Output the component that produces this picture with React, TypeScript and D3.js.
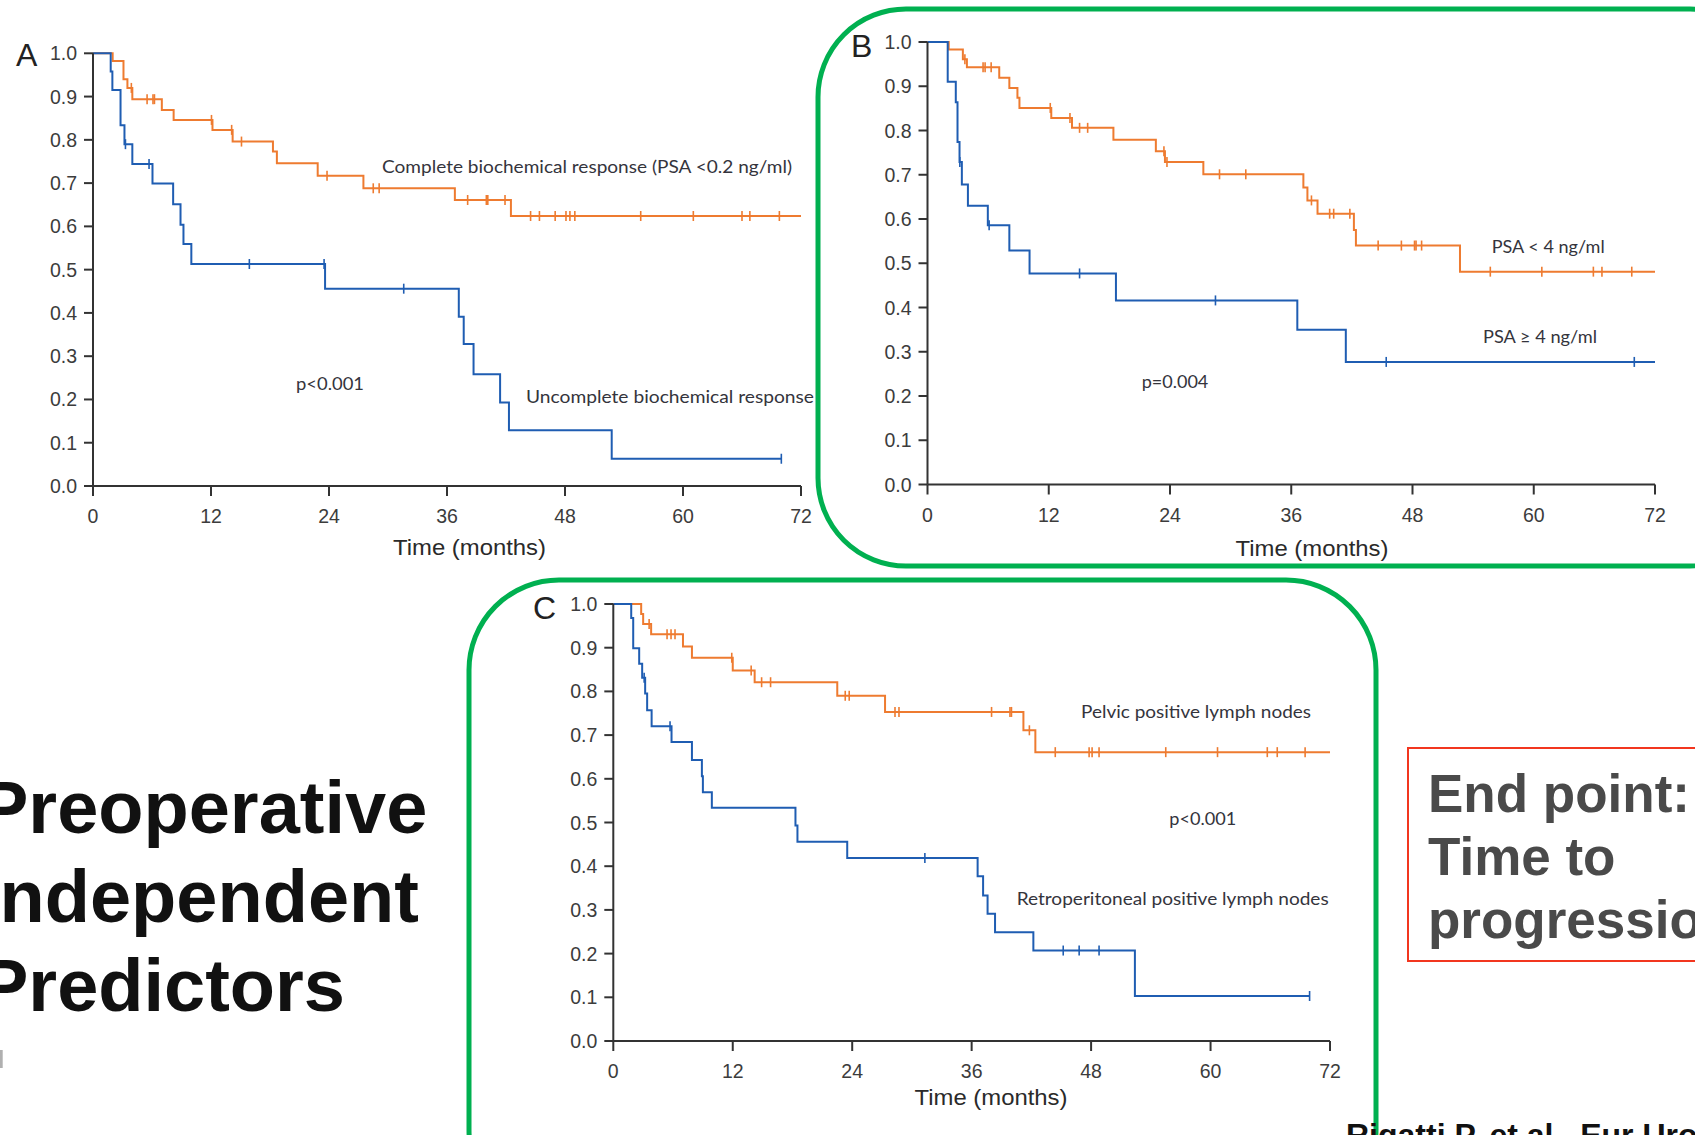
import React, { useEffect } from 'react';
import * as d3 from 'd3';

type Pt = [number, number];

// ---------- Panel A : biochemical response ----------
const aCompleteSteps: Pt[] = [
  [0, 1], [2.0, 0.982], [3.1, 0.94], [3.5, 0.92], [4.0, 0.894], [7.0, 0.869], [8.2, 0.846],
  [12.15, 0.823], [14.2, 0.796], [18.3, 0.773], [18.7, 0.746], [22.85, 0.717], [27.5, 0.688],
  [36.8, 0.661], [42.5, 0.624],
];
const aCompleteEnd = 72;
const aCompleteCensor = [3.9, 5.5, 6.1, 6.25, 12.05, 14.1, 15.1, 23.8, 28.5, 29.1, 38.1, 40.0, 40.15, 41.9,
  44.5, 45.4, 47.0, 48.1, 48.5, 49.0, 55.7, 61.05, 66.0, 66.8, 69.8];

const aUncompleteSteps: Pt[] = [
  [0, 1], [1.8, 0.958], [1.97, 0.915], [2.8, 0.834], [3.2, 0.79], [4.0, 0.744], [6.05, 0.699],
  [8.15, 0.651], [8.9, 0.604], [9.2, 0.559], [10.0, 0.513], [23.6, 0.456], [37.2, 0.391],
  [37.7, 0.328], [38.7, 0.258], [41.4, 0.193], [42.3, 0.129], [52.75, 0.063],
];
const aUncompleteEnd = 70.0;
const aUncompleteCensor = [3.3, 5.7, 15.9, 23.5, 31.6, 70.0];

// ---------- Panel B : PSA ----------
const bLowSteps: Pt[] = [
  [0, 1], [2.1, 0.983], [3.5, 0.961], [3.9, 0.943], [7.1, 0.919], [8.1, 0.896], [8.9, 0.874],
  [9.1, 0.851], [12.25, 0.828], [14.3, 0.806], [18.4, 0.779], [22.6, 0.753], [23.5, 0.729],
  [27.3, 0.701], [37.2, 0.671], [37.6, 0.642], [38.6, 0.612], [42.2, 0.575], [42.4, 0.54],
  [52.7, 0.481],
];
const bLowEnd = 72;
const bLowCensor = [3.7, 5.5, 5.7, 6.3, 12.15, 14.1, 15.05, 15.85, 23.4, 23.7, 28.9, 31.5, 38.0, 39.8,
  40.2, 41.8, 44.6, 46.9, 48.2, 48.35, 48.9, 55.7, 60.8, 65.9, 66.75, 69.7];

const bHighSteps: Pt[] = [
  [0, 1], [2.0, 0.91], [2.8, 0.864], [2.97, 0.774], [3.17, 0.729], [3.4, 0.678], [4.0, 0.63],
  [5.97, 0.586], [8.1, 0.529], [10.1, 0.477], [18.65, 0.416], [36.6, 0.35], [41.4, 0.277],
];
const bHighEnd = 72;
const bHighCensor = [3.2, 6.1, 15.05, 28.5, 45.4, 69.95];

// ---------- Panel C : lymph nodes ----------
const cPelvicSteps: Pt[] = [
  [0, 1], [2.8, 0.977], [3.0, 0.954], [3.8, 0.931], [7.0, 0.903], [7.9, 0.877], [12.0, 0.848],
  [14.2, 0.821], [22.5, 0.79], [27.3, 0.753], [41.2, 0.711], [42.4, 0.661],
];
const cPelvicEnd = 72;
const cPelvicCensor = [3.6, 5.4, 5.8, 6.2, 11.9, 13.85, 14.9, 15.8, 23.3, 23.7, 28.3, 28.7, 38.0, 39.85,
  40.0, 41.8, 44.4, 47.8, 48.1, 48.8, 55.5, 60.7, 65.7, 66.7, 69.5];

const cRetroSteps: Pt[] = [
  [0, 1], [1.8, 0.968], [2.0, 0.899], [2.6, 0.863], [2.9, 0.831], [3.2, 0.795], [3.4, 0.757],
  [3.85, 0.72], [5.85, 0.684], [7.9, 0.643], [8.9, 0.606], [9.0, 0.569], [9.9, 0.534],
  [18.3, 0.493], [18.5, 0.456], [23.5, 0.419], [36.6, 0.377], [37.15, 0.333], [37.6, 0.291],
  [38.35, 0.249], [42.2, 0.207], [52.4, 0.103],
];
const cRetroEnd = 69.95;
const cRetroCensor = [3.1, 5.7, 31.3, 45.2, 46.8, 48.8, 69.95];

// ---------- axes ----------
const xTicks = [0, 12, 24, 36, 48, 60, 72];
const yTicks = [0, 0.1, 0.2, 0.3, 0.4, 0.5, 0.6, 0.7, 0.8, 0.9, 1.0];
const xAxisTitle = 'Time (months)';

const ORANGE = '#ee7b30';
const BLUE = '#1f5db2';
const AXIS = '#333333';
const TICKTXT = '#3c3c3c';
const LABELTXT = '#34343c';
const GREEN = '#00b050';

function survAt(steps: Pt[], t: number): number {
  let s = steps[0][1];
  for (const [tt, v] of steps) {
    if (tt <= t + 1e-9) s = v;
    else break;
  }
  return s;
}

type Series = { steps: Pt[]; end: number; censor: number[]; color: string };
type Label = { text: string; x: number; y: number; w: number; size: number };

function KMPanel(props: {
  x0: number; x1: number; yTop: number; yBot: number;
  series: Series[]; letter: string; letterX: number; letterY: number;
  labels: Label[]; titleX: number; titleY: number;
}) {
  const { x0, x1, yTop, yBot, series, letter, letterX, letterY, labels, titleX, titleY } = props;
  const x = d3.scaleLinear().domain([0, 72]).range([x0, x1]);
  const y = d3.scaleLinear().domain([0, 1]).range([yBot, yTop]);
  const line = d3.line<Pt>().x((d) => x(d[0])).y((d) => y(d[1])).curve(d3.curveStepAfter);
  const fmt = d3.format('.1f');
  return (
    <g>
      {series.map((s, i) => {
        const pts: Pt[] = [...s.steps, [s.end, s.steps[s.steps.length - 1][1]]];
        return (
          <g key={i}>
            <path d={line(pts) || ''} fill="none" stroke={s.color} strokeWidth={2} />
            {s.censor.map((t, j) => {
              const sv = survAt(s.steps, t);
              return (
                <line key={j} x1={x(t)} x2={x(t)} y1={y(sv) - 5} y2={y(sv) + 5}
                  stroke={s.color} strokeWidth={1.6} />
              );
            })}
          </g>
        );
      })}
      {/* axes */}
      <line x1={x0} x2={x1} y1={yBot} y2={yBot} stroke={AXIS} strokeWidth={2} />
      <line x1={x0} x2={x0} y1={yTop} y2={yBot} stroke={AXIS} strokeWidth={2} />
      {yTicks.map((v) => (
        <g key={'y' + v}>
          <line x1={x0 - 9} x2={x0} y1={y(v)} y2={y(v)} stroke={AXIS} strokeWidth={2} />
          <text x={x0 - 16} y={y(v)} dy="0.36em" textAnchor="end" fontSize={19.5}
            fontFamily="'Liberation Sans', Arial, sans-serif" fill={TICKTXT}>{fmt(v)}</text>
        </g>
      ))}
      {xTicks.map((v) => (
        <g key={'x' + v}>
          <line x1={x(v)} x2={x(v)} y1={yBot} y2={yBot + 10} stroke={AXIS} strokeWidth={2} />
          <text x={x(v)} y={yBot + 37} textAnchor="middle" fontSize={19.5}
            fontFamily="'Liberation Sans', Arial, sans-serif" fill={TICKTXT}>{v}</text>
        </g>
      ))}
      <text x={titleX} y={titleY} textAnchor="middle" fontSize={22} textLength={153}
        lengthAdjust="spacingAndGlyphs"
        fontFamily="'Liberation Sans', Arial, sans-serif" fill="#2a2a2a">{xAxisTitle}</text>
      <text x={letterX} y={letterY} fontSize={32}
        fontFamily="'Liberation Sans', Arial, sans-serif" fill="#222">{letter}</text>
      {labels.map((l, i) => (
        <text key={i} x={l.x} y={l.y} fontSize={l.size} textLength={l.w} lengthAdjust="spacingAndGlyphs"
          fontFamily="Lato, 'Open Sans', sans-serif" fill={LABELTXT}>{l.text}</text>
      ))}
    </g>
  );
}

export default function App() {
  useEffect(() => {
    document.body.style.margin = '0';
  }, []);
  const W = 1695;
  const H = 1135;
  return (
    <svg width={W} height={H} viewBox={`0 0 ${W} ${H}`}
      style={{ position: 'absolute', left: 0, top: 0, background: '#fff', display: 'block' }}>
      <rect x={0} y={0} width={W} height={H} fill="#fff" />

      {/* green frames */}
      <rect x={818} y={9} width={960} height={557} rx={88} ry={88} fill="none" stroke={GREEN} strokeWidth={5} />
      <rect x={469} y={580} width={907} height={640} rx={90} ry={90} fill="none" stroke={GREEN} strokeWidth={5} />

      <KMPanel x0={93} x1={801} yTop={53.3} yBot={486}
        series={[
          { steps: aCompleteSteps, end: aCompleteEnd, censor: aCompleteCensor, color: ORANGE },
          { steps: aUncompleteSteps, end: aUncompleteEnd, censor: aUncompleteCensor, color: BLUE },
        ]}
        letter="A" letterX={16} letterY={66}
        titleX={469.5} titleY={555}
        labels={[
          { text: 'Complete biochemical response (PSA <0.2 ng/ml)', x: 382, y: 173, w: 410, size: 18 },
          { text: 'Uncomplete biochemical response', x: 526, y: 403, w: 288, size: 17.5 },
          { text: 'p<0.001', x: 296, y: 390, w: 68, size: 17.5 },
        ]}
      />

      <KMPanel x0={927.5} x1={1655} yTop={42} yBot={484.5}
        series={[
          { steps: bLowSteps, end: bLowEnd, censor: bLowCensor, color: ORANGE },
          { steps: bHighSteps, end: bHighEnd, censor: bHighCensor, color: BLUE },
        ]}
        letter="B" letterX={851} letterY={56.5}
        titleX={1312} titleY={556}
        labels={[
          { text: 'PSA < 4 ng/ml', x: 1491.7, y: 252.7, w: 113, size: 17.5 },
          { text: 'PSA \u2265 4 ng/ml', x: 1483, y: 343, w: 114, size: 17.5 },
          { text: 'p=0.004', x: 1141.7, y: 388, w: 66.6, size: 17.5 },
        ]}
      />

      <KMPanel x0={613.3} x1={1330} yTop={604} yBot={1041}
        series={[
          { steps: cPelvicSteps, end: cPelvicEnd, censor: cPelvicCensor, color: ORANGE },
          { steps: cRetroSteps, end: cRetroEnd, censor: cRetroCensor, color: BLUE },
        ]}
        letter="C" letterX={533} letterY={618.5}
        titleX={991} titleY={1105}
        labels={[
          { text: 'Pelvic positive lymph nodes', x: 1081, y: 717.7, w: 230, size: 17.5 },
          { text: 'p<0.001', x: 1169.3, y: 825, w: 67, size: 17.5 },
          { text: 'Retroperitoneal positive lymph nodes', x: 1016.7, y: 905, w: 312, size: 17.5 },
        ]}
      />

      {/* left title */}
      <g fontFamily="'Liberation Sans', Arial, sans-serif" fontWeight="bold" fontSize={74} fill="#111">
        <text x={-21} y={832.7}>Preoperative</text>
        <text x={-21} y={921.7}>Independent</text>
        <text x={-21} y={1010.7}>Predictors</text>
      </g>
      <rect x={0} y={1050} width={2.7} height={18} fill="#b0b0b0" />

      {/* end point box */}
      <rect x={1408} y={748} width={400} height={213} fill="none" stroke="#f2361f" strokeWidth={2} />
      <g fontFamily="'Liberation Sans', Arial, sans-serif" fontWeight="bold" fontSize={53} fill="#4a4a4a">
        <text x={1428} y={812}>End point:</text>
        <text x={1428} y={875}>Time to</text>
        <text x={1428} y={938}>progression</text>
      </g>

      <text x={1346} y={1146} fontFamily="'Liberation Sans', Arial, sans-serif" fontWeight="bold"
        fontSize={32} fill="#111">Rigatti P. et al., Eur Urol</text>
    </svg>
  );
}
